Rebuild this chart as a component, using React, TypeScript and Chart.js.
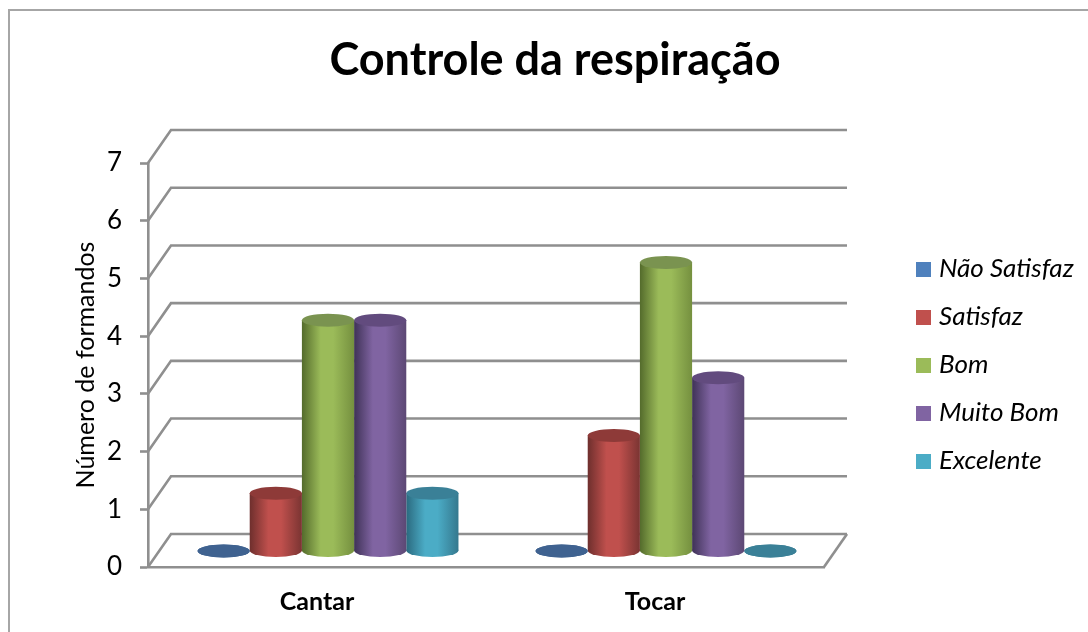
import React, { useEffect, useRef } from "react";
import { Chart, registerables } from "chart.js";

Chart.register(...registerables);

const categories = ["Cantar", "Tocar"];
const naoSatisfaz = [0, 0];
const satisfaz = [1, 2];
const bom = [4, 5];
const muitoBom = [4, 3];
const excelente = [1, 0];
const seriesNames = ["Não Satisfaz", "Satisfaz", "Bom", "Muito Bom", "Excelente"];
const yTicks = [0, 1, 2, 3, 4, 5, 6, 7];
const titleText = "Controle da respiração";
const yTitle = "Número de formandos";

const mainColors = ["#4f81bd", "#c0504d", "#9bbb59", "#8064a2", "#4bacc6"];
const capColors = ["#3f6290", "#8e3a38", "#7a9350", "#624b7e", "#3a8097"];
const leftEdge = ["#2f4b70", "#6e2f2d", "#546b2c", "#3f3257", "#2b6a7f"];
const rightEdge = ["#3b5d88", "#7a3432", "#75903f", "#5c4874", "#35788e"];

const LINE = "#8f8f8f";
const FONT = "Lato";
const DX = 23, DY = -33;
const BX = 11, BY = -16;
const CAT_PCT = 0.772;
const RY = 6.5;

function swatch(color: string) {
  const s = document.createElement("canvas");
  s.width = 15;
  s.height = 15;
  const c = s.getContext("2d") as CanvasRenderingContext2D;
  c.fillStyle = color;
  c.fillRect(0, 0, 15, 15);
  return s;
}

const threeD = {
  id: "threeD",
  afterLayout(chart: any) {
    const l = chart.legend;
    l.left = 899; l.top = 234; l.right = 1088; l.bottom = 632;
    const t = chart.titleBlock;
    t.left += 11; t.right += 11;
  },
  beforeDraw(chart: any) {
    const c = chart.ctx;
    c.save();
    c.strokeStyle = "#a6a6a6";
    c.lineWidth = 2;
    c.beginPath();
    c.moveTo(1088, 10); c.lineTo(9, 10); c.lineTo(9, 632);
    c.stroke();
    c.restore();
  },
  beforeDatasetsDraw(chart: any) {
    const c = chart.ctx, y = chart.scales.y, a = chart.chartArea;
    c.save();
    c.strokeStyle = LINE;
    c.lineWidth = 2.6;
    c.lineJoin = "miter";
    yTicks.forEach((v) => {
      const py = y.getPixelForValue(v);
      c.beginPath();
      c.moveTo(a.left, py);
      c.lineTo(a.left + DX, py + DY);
      c.lineTo(a.right + DX, py + DY);
      c.stroke();
    });
    const by = y.getPixelForValue(0);
    c.beginPath();
    c.moveTo(a.right, by);
    c.lineTo(a.right + DX, by + DY);
    c.stroke();
    c.restore();
  },
  beforeDatasetDraw(chart: any, args: any) {
    const c = chart.ctx, i = args.index;
    c.save();
    c.translate(BX, BY);
    args.meta.data.forEach((el: any) => {
      const w = el.width;
      c.beginPath();
      c.ellipse(el.x, el.base, w / 2, RY, 0, 0, Math.PI * 2);
      c.fillStyle = Math.abs(el.base - el.y) < 0.5 ? capColors[i] : barGradient(c, el.x - w / 2, w, i);
      c.fill();
    });
  },
  afterDatasetDraw(chart: any, args: any) {
    const c = chart.ctx, i = args.index;
    args.meta.data.forEach((el: any) => {
      c.beginPath();
      c.ellipse(el.x, el.y, el.width / 2, RY, 0, 0, Math.PI * 2);
      c.fillStyle = capColors[i];
      c.fill();
    });
    c.restore();
  },
};

function barGradient(c: CanvasRenderingContext2D, x: number, w: number, i: number) {
  const g = c.createLinearGradient(x, 0, x + w, 0);
  g.addColorStop(0, leftEdge[i]);
  g.addColorStop(0.36, mainColors[i]);
  g.addColorStop(0.6, mainColors[i]);
  g.addColorStop(1, rightEdge[i]);
  return g;
}

export default function App() {
  const ref = useRef<HTMLCanvasElement>(null);
  useEffect(() => {
    const series = [naoSatisfaz, satisfaz, bom, muitoBom, excelente];
    const chart: any = new Chart(ref.current as HTMLCanvasElement, {
      type: "bar",
      data: {
        labels: categories,
        datasets: series.map((d, i) => ({
          label: seriesNames[i],
          data: d,
          categoryPercentage: CAT_PCT,
          barPercentage: 1,
          clip: false,
          borderWidth: 0,
          backgroundColor: (ctx: any) => {
            const sc = ctx.chart.scales.x;
            const cw = sc.width / categories.length;
            const w = (cw * CAT_PCT) / series.length;
            const idx = ctx.dataIndex ?? 0;
            const cx = sc.getPixelForValue(idx) + (i - 2) * w;
            return barGradient(ctx.chart.ctx, cx - w / 2, w, i);
          },
        })),
      },
      plugins: [threeD],
      options: {
        animation: false,
        responsive: false,
        devicePixelRatio: 1,
        layout: { padding: { top: 33, left: 0, right: 0, bottom: 0 } },
        plugins: {
          tooltip: { enabled: false },
          title: {
            display: true,
            text: titleText,
            color: "#000",
            font: { family: FONT, size: 45, weight: "bold", lineHeight: 1.2 },
            padding: { top: 0, bottom: 76 },
          },
          legend: {
            position: "right",
            align: "start",
            labels: {
              usePointStyle: true,
              pointStyleWidth: 5,
              boxWidth: 15,
              boxHeight: 15,
              padding: 22,
              color: "#000",
              font: { family: FONT, size: 26, style: "italic" },
              generateLabels: () =>
                seriesNames.map((n, i) => ({
                  text: n,
                  fillStyle: mainColors[i],
                  strokeStyle: mainColors[i],
                  lineWidth: 0,
                  pointStyle: swatch(mainColors[i]),
                  datasetIndex: i,
                  hidden: false,
                })),
            },
          },
        },
        scales: {
          x: {
            grid: { display: false, drawTicks: false },
            border: { color: LINE, width: 2.6 },
            ticks: {
              padding: 20,
              color: "#000",
              font: { family: FONT, size: 25, weight: "bold" },
            },
            afterFit: (s: any) => { s.height = 65; },
          },
          y: {
            min: 0,
            max: 7,
            afterBuildTicks: (s: any) => { s.ticks = yTicks.map((v) => ({ value: v })); },
            grid: { drawOnChartArea: false, drawTicks: true, tickLength: 8, tickColor: LINE, tickWidth: 2.6 },
            border: { color: LINE, width: 2.6 },
            ticks: {
              padding: 18,
              color: "#000",
              font: { family: FONT, size: 26 },
            },
            title: {
              display: true,
              text: yTitle,
              color: "#000",
              font: { family: FONT, size: 25, lineHeight: 1.2 },
              padding: { top: 71, bottom: 0 },
            },
            afterFit: (s: any) => { s.width = 148; },
          },
        },
      },
    } as any);
    // the chart area stops at x=824 whatever the legend's own width is
    const fit = chart.legend.fit;
    chart.legend.fit = function () { fit.call(this); this.width = 264; };
    chart.update();
    return () => chart.destroy();
  }, []);
  return (
    <div style={{ position: "fixed", left: 0, top: 0, width: 1088, height: 632, background: "#fff" }}>
      <canvas ref={ref} width={1088} height={632} style={{ display: "block" }} />
    </div>
  );
}
